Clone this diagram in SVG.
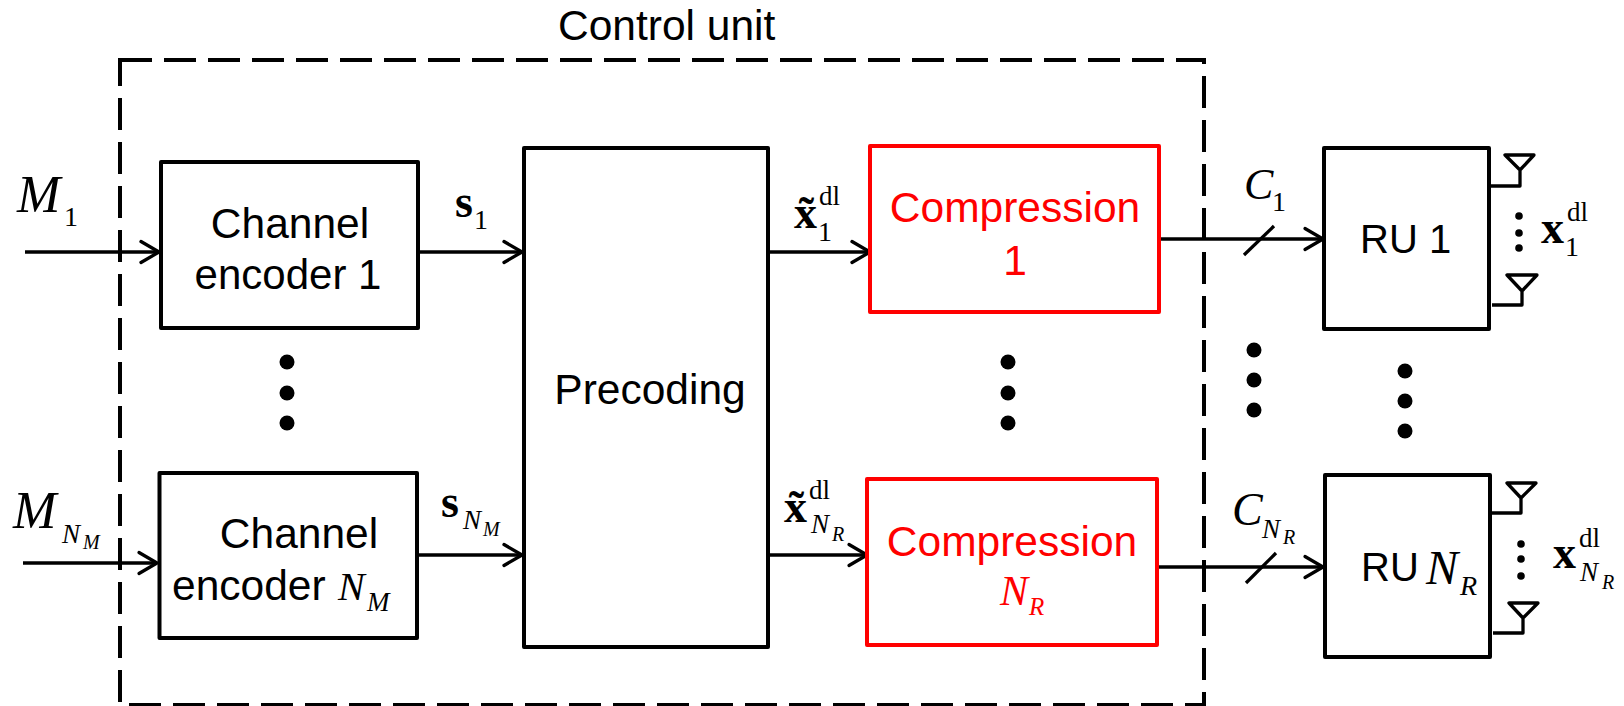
<svg xmlns="http://www.w3.org/2000/svg" width="1624" height="706" viewBox="0 0 1624 706">
<style>
.b{fill:#fff;stroke:#000;stroke-width:4;stroke-linejoin:round}
.r{fill:#fff;stroke:#f00;stroke-width:4;stroke-linejoin:round}
.l{fill:none;stroke:#000;stroke-width:3.3;stroke-linejoin:round}
.a{fill:none;stroke:#000;stroke-width:3.3;marker-end:url(#ah)}
.s{font-family:"Liberation Sans",Arial,sans-serif;font-size:42.5px;fill:#000}
.ru{font-size:40px}
.m{font-family:"Liberation Serif","Times New Roman",serif;fill:#000}
.i{font-style:italic}
.bd{font-weight:bold}
.red{fill:#f00}
</style>
<defs>
<marker id="ah" markerUnits="userSpaceOnUse" markerWidth="24" markerHeight="28" refX="20" refY="14" orient="auto" overflow="visible">
<path d="M2 3.500L20 14L2 24.500" fill="none" stroke="#000" stroke-width="3.300" stroke-linecap="round" stroke-linejoin="round"/>
</marker>
</defs>
<rect id="control-unit" x="120" y="60" width="1084" height="645" fill="none" stroke="#000" stroke-width="4" stroke-dasharray="32 12"/>
<text class="s" x="558" y="40">Control unit</text>
<g id="connectors">
<path class="a" d="M25 252H159"/>
<path class="a" d="M23 563H157"/>
<path class="a" d="M418 252H522"/>
<path class="a" d="M418 555H522"/>
<path class="a" d="M768 252H870"/>
<path class="a" d="M768 555H867"/>
<path class="a" d="M1160 239H1323"/>
<path class="a" d="M1159 567H1323"/>
<path class="l" d="M1244 255L1274 226"/>
<path class="l" d="M1246 583L1276 553"/>
</g>
<g id="encoder-1"><rect class="b" x="161" y="162" width="257" height="166"/>
<text class="s" x="290" y="238" text-anchor="middle">Channel</text><text class="s" style="font-size:42px" x="288" y="289" text-anchor="middle">encoder 1</text></g>
<g id="encoder-n"><rect class="b" x="159.500" y="473" width="257.500" height="165"/>
<text class="s" x="299" y="548" text-anchor="middle">Channel</text><text class="s" x="172" y="600">encoder</text><text class="m i" font-size="40" x="338" y="600">N</text><text class="m i" font-size="27" x="367" y="611">M</text></g>
<g id="precoding"><rect class="b" x="524" y="148" width="244" height="499"/>
<text class="s" x="650" y="404" text-anchor="middle">Precoding</text></g>
<g id="compression-1"><rect class="r" x="870" y="146" width="289" height="166"/>
<text class="s red" x="1015" y="222" text-anchor="middle">Compression</text><text class="s red" x="1015" y="275" text-anchor="middle">1</text></g>
<g id="compression-n"><rect class="r" x="867" y="479" width="290" height="166"/>
<text class="s red" x="1012" y="556" text-anchor="middle">Compression</text><text class="m i red" font-size="42" x="1000" y="605">N</text><text class="m i red" font-size="25" x="1029" y="615">R</text></g>
<g id="ru-1"><rect class="b" x="1324" y="148" width="165" height="181"/>
<text class="s ru" x="1360" y="253">RU 1</text>
<path class="l" d="M1489 186H1520V170M1505 155H1534L1520 170Z"/>
<path class="l" d="M1492 305H1522V291M1507 275H1537L1522 291Z"/>
</g>
<g id="ru-n"><rect class="b" x="1325" y="475" width="165" height="182"/>
<text class="s ru" x="1361" y="581">RU</text><text class="m i" font-size="48" x="1426" y="584">N</text><text class="m i" font-size="28" x="1460" y="595">R</text>
<path class="l" d="M1491 513H1521V498M1507 483H1536L1521 498Z"/>
<path class="l" d="M1493 633H1523V618M1509 603H1538L1523 618Z"/>
</g>
<g id="labels">
<text class="m i" font-size="52" x="17" y="212">M</text><text class="m" font-size="28" x="64" y="226">1</text>
<text class="m i" font-size="52" x="13" y="528">M</text><text class="m i" font-size="27" x="62" y="543">N</text><text class="m i" font-size="20" x="83" y="549">M</text>
<text class="m bd" font-size="46" x="455" y="217">s</text><text class="m" font-size="28" x="474" y="229">1</text>
<text class="m bd" font-size="46" x="441" y="517">s</text><text class="m i" font-size="27" x="463" y="529">N</text><text class="m i" font-size="20" x="483" y="536">M</text>
<text class="m bd" font-size="46" x="794" y="228">x̃</text><text class="m" font-size="27" x="819" y="205">dl</text><text class="m" font-size="28" x="818" y="241">1</text>
<text class="m bd" font-size="46" x="784" y="522">x̃</text><text class="m" font-size="27" x="809" y="499">dl</text><text class="m i" font-size="27" x="811" y="533">N</text><text class="m i" font-size="20" x="832" y="541">R</text>
<text class="m i" font-size="44" x="1244" y="199">C</text><text class="m" font-size="28" x="1272" y="211">1</text>
<text class="m i" font-size="46" x="1232" y="525">C</text><text class="m i" font-size="27" x="1262" y="538">N</text><text class="m i" font-size="20" x="1283" y="544">R</text>
<text class="m bd" font-size="46" x="1541" y="243">x</text><text class="m" font-size="27" x="1567" y="221">dl</text><text class="m" font-size="28" x="1565" y="256">1</text>
<text class="m bd" font-size="46" x="1553" y="568">x</text><text class="m" font-size="27" x="1579" y="547">dl</text><text class="m i" font-size="27" x="1580" y="581">N</text><text class="m i" font-size="20" x="1602" y="589">R</text>
</g>
<g id="dots" fill="#000">
<circle cx="287" cy="362" r="7.500"/><circle cx="287" cy="393" r="7.500"/><circle cx="287" cy="423" r="7.500"/>
<circle cx="1008" cy="362" r="7.500"/><circle cx="1008" cy="393" r="7.500"/><circle cx="1008" cy="423" r="7.500"/>
<circle cx="1254" cy="350" r="7.500"/><circle cx="1254" cy="380" r="7.500"/><circle cx="1254" cy="410" r="7.500"/>
<circle cx="1405" cy="371" r="7.500"/><circle cx="1405" cy="401" r="7.500"/><circle cx="1405" cy="431" r="7.500"/>
<circle cx="1519" cy="216" r="3.800"/><circle cx="1519" cy="233" r="3.800"/><circle cx="1519" cy="248" r="3.800"/>
<circle cx="1521" cy="544" r="3.800"/><circle cx="1521" cy="559" r="3.800"/><circle cx="1521" cy="576" r="3.800"/>
</g>
</svg>
